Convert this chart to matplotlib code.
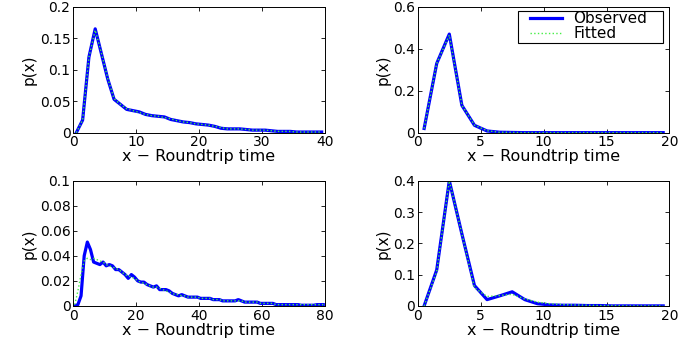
import matplotlib
matplotlib.use("Agg")
import matplotlib.pyplot as plt
import numpy as np
from matplotlib.ticker import FormatStrFormatter
from matplotlib.patches import Rectangle

plt.rcParams['font.family'] = ['DejaVu Sans']
plt.rcParams['font.size'] = 11.5

# panel 1: roundtrip time 0..40
x1 = np.arange(40) + 0.5
obs1 = [0.0, 0.02, 0.12, 0.165, 0.125, 0.085, 0.053, 0.045, 0.037, 0.035,
        0.033, 0.029, 0.027, 0.026, 0.025, 0.021, 0.019, 0.017, 0.016, 0.014,
        0.013, 0.012, 0.010, 0.007, 0.006, 0.006, 0.006, 0.005, 0.004, 0.004,
        0.004, 0.003, 0.002, 0.002, 0.002, 0.001, 0.001, 0.001, 0.001, 0.001]
fit1 = [0.0, 0.02, 0.12, 0.163, 0.126, 0.086, 0.054, 0.045, 0.038, 0.035,
        0.032, 0.029, 0.027, 0.026, 0.024, 0.022, 0.019, 0.017, 0.016, 0.014,
        0.013, 0.012, 0.010, 0.008, 0.006, 0.006, 0.006, 0.005, 0.004, 0.004,
        0.004, 0.003, 0.002, 0.002, 0.002, 0.001, 0.001, 0.001, 0.001, 0.001]

# panel 2: roundtrip time 0..20
x2 = np.arange(20) + 0.5
obs2 = [0.02, 0.33, 0.47, 0.13, 0.035, 0.008, 0.002, 0.001, 0, 0,
        0, 0, 0, 0, 0, 0, 0, 0, 0, 0]
fit2 = [0.02, 0.33, 0.465, 0.13, 0.036, 0.009, 0.002, 0.001, 0, 0,
        0, 0, 0, 0, 0, 0, 0, 0, 0, 0]

# panel 3: roundtrip time 0..80
x3 = np.arange(80) + 0.5
obs3 = [0.0, 0.001, 0.008, 0.040, 0.051, 0.045, 0.035, 0.034, 0.033, 0.035,
        0.032, 0.033, 0.032, 0.029, 0.029, 0.027, 0.025, 0.022, 0.025, 0.023,
        0.020, 0.019, 0.019, 0.017, 0.016, 0.015, 0.016, 0.013, 0.013, 0.013,
        0.012, 0.010, 0.009, 0.008, 0.009, 0.008, 0.007, 0.007, 0.007, 0.007,
        0.006, 0.006, 0.006, 0.006, 0.005, 0.005, 0.005, 0.004, 0.004, 0.004,
        0.004, 0.004, 0.005, 0.004, 0.003, 0.003, 0.003, 0.003, 0.003, 0.002,
        0.002, 0.002, 0.002, 0.002, 0.001, 0.001, 0.001, 0.001, 0.001, 0.001,
        0.001, 0.001, 0.0005, 0.0005, 0.0005, 0.0005, 0.0005, 0.001, 0.001, 0.001]
fit3 = [0.001, 0.012, 0.025, 0.036, 0.038, 0.037, 0.038, 0.037, 0.036, 0.035,
        0.033, 0.032, 0.031, 0.030, 0.029, 0.027, 0.025, 0.024, 0.023, 0.022,
        0.020, 0.019, 0.018, 0.017, 0.016, 0.015, 0.015, 0.014, 0.013, 0.012,
        0.011, 0.010, 0.009, 0.009, 0.008, 0.008, 0.007, 0.007, 0.007, 0.007,
        0.006, 0.006, 0.006, 0.006, 0.005, 0.005, 0.005, 0.004, 0.004, 0.004,
        0.004, 0.004, 0.004, 0.004, 0.003, 0.003, 0.003, 0.003, 0.003, 0.002,
        0.002, 0.002, 0.002, 0.002, 0.001, 0.001, 0.001, 0.001, 0.001, 0.001,
        0.001, 0.001, 0.001, 0.001, 0.001, 0.001, 0.001, 0.001, 0.001, 0.001]

# panel 4: roundtrip time 0..20
x4 = np.arange(20) + 0.5
obs4 = [0.0, 0.115, 0.40, 0.23, 0.065, 0.02, 0.032, 0.045, 0.02, 0.007,
        0.003, 0.002, 0.002, 0.001, 0.001, 0, 0, 0, 0, 0]
fit4 = [0.0, 0.11, 0.40, 0.23, 0.058, 0.03, 0.033, 0.037, 0.022, 0.012,
        0.007, 0.004, 0.003, 0.002, 0.001, 0.001, 0, 0, 0, 0]

panels = [
    (x1, obs1, fit1, 40, 10, 0.2, 0.05),
    (x2, obs2, fit2, 20, 5, 0.6, 0.2),
    (x3, obs3, fit3, 80, 20, 0.1, 0.02),
    (x4, obs4, fit4, 20, 5, 0.4, 0.1),
]
rects = [
    [0.105, 0.611, 0.361, 0.369],
    [0.5995, 0.611, 0.361, 0.369],
    [0.105, 0.103, 0.361, 0.367],
    [0.5995, 0.103, 0.361, 0.367],
]

fig = plt.figure(figsize=(6.97, 3.41), dpi=100)
for i, (x, obs, fit, xmax, xstep, ymax, ystep) in enumerate(panels):
    ax = fig.add_axes(rects[i])
    ax.plot(x, obs, color='#0000ff', lw=2.3, label='Observed')
    ax.plot(x, fit, color='#44ee44', lw=1.0, ls=':', label='Fitted')
    ax.set_xlim(0, xmax)
    ax.set_ylim(0, ymax)
    ax.set_xticks(np.arange(0, xmax + 0.001, xstep))
    ax.set_yticks(np.arange(0, ymax + ystep / 2, ystep))
    ax.xaxis.set_major_formatter(FormatStrFormatter('%g'))
    ax.yaxis.set_major_formatter(FormatStrFormatter('%g'))
    ax.tick_params(direction='in', top=True, right=True, length=3, width=0.6,
                   pad=2, labelsize=10)
    for s in ax.spines.values():
        s.set_linewidth(0.7)
    ax.set_xlabel('x \u2212 Roundtrip time', labelpad=0, fontsize=11.5)
    ax.set_ylabel('p(x)', labelpad=2, fontsize=11)
    if i == 1:
        # MATLAB-style legend: wide side padding, tight rows
        ax.legend(loc='upper left', bbox_to_anchor=(0.445, 0.965),
                  frameon=False, borderpad=0, borderaxespad=0,
                  labelspacing=0, handlelength=2.1, handletextpad=0.75,
                  fontsize=11)
        ax.add_patch(Rectangle((0.397, 0.71), 0.577, 0.253,
                               transform=ax.transAxes,
                               facecolor='none', edgecolor='black', lw=0.8,
                               zorder=5))

fig.savefig('out.png', dpi=100)
